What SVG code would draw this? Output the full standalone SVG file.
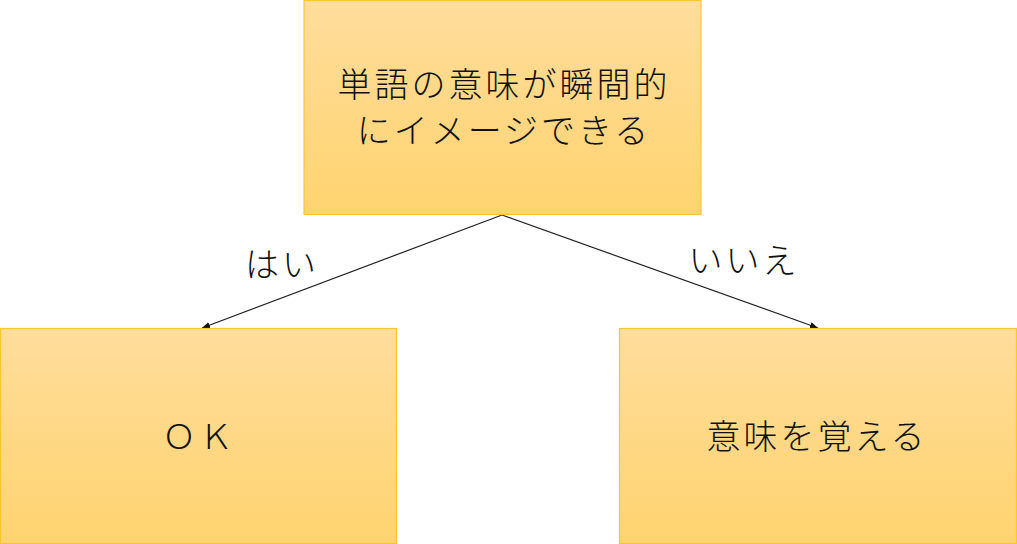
<svg xmlns="http://www.w3.org/2000/svg" width="1017" height="544" viewBox="0 0 1017 544">
<style>
.box{fill:url(#g);stroke:#FFC52E;stroke-width:1.2}
.t{font-family:"Noto Sans CJK JP","Noto Sans",sans-serif;font-weight:300;font-size:34px;fill:#111;text-anchor:middle;letter-spacing:3px}
.c{stroke:#222;stroke-width:1.2;fill:none;marker-end:url(#a)}
</style>
<defs>
<linearGradient id="g" x1="0" y1="0" x2="0" y2="1">
<stop offset="0" stop-color="#FFDD9C"/>
<stop offset="1" stop-color="#FFD36F"/>
</linearGradient>
<marker id="a" viewBox="0 0 10 10" refX="10" refY="5" markerWidth="8" markerHeight="8" orient="auto" markerUnits="userSpaceOnUse">
<path d="M0,1 L10,5 L0,9 z" fill="#111"/>
</marker>
</defs>
<g id="connectors">
<line class="c" x1="502" y1="215" x2="202" y2="328"/>
<line class="c" x1="502" y1="215" x2="818" y2="328"/>
<text class="t" x="282" y="277">はい</text>
<text class="t" x="744" y="273">いいえ</text>
</g>
<g id="top">
<rect class="box" x="304" y="0.5" width="397" height="214"/>
<text class="t" x="504" y="97">単語の意味が瞬間的</text>
<text class="t" x="504" y="143">にイメージできる</text>
</g>
<g id="ok">
<rect class="box" x="0.5" y="328.5" width="396" height="215"/>
<text class="t" x="199" y="449">ＯＫ</text>
</g>
<g id="memorize">
<rect class="box" x="619.5" y="328.5" width="397" height="215"/>
<text class="t" x="817" y="449">意味を覚える</text>
</g>
</svg>
